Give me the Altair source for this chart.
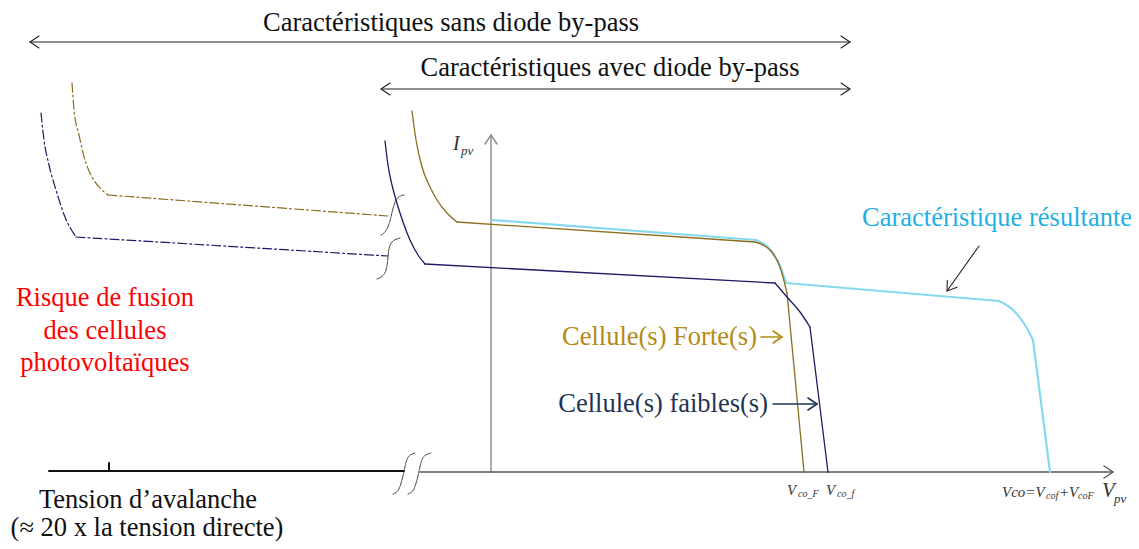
import altair as alt
import pandas as pd

# ---------------- data (sketch coordinates) ----------------
# I-V curves, split into curved and straight pieces (y grows downward)
forte_pieces = [
    ("curve", [412, 416, 422, 430, 437, 447, 457], [111, 140, 167, 187, 200, 213, 222]),
    ("line", [457, 755], [222, 242]),
    ("curve", [755, 770, 780, 787], [242, 250, 267, 293]),
    ("line", [787, 804], [293, 472]),
]
forte_ext_pieces = [
    ("curve", [72, 74, 79, 85, 92, 100, 108], [83, 110, 135, 160, 177, 188, 195]),
    ("line", [108, 388], [195, 216]),
]
faible_pieces = [
    ("curve", [385, 388, 392, 396, 403, 410, 418, 425], [141, 165, 185, 200, 222, 240, 255, 264]),
    ("line", [425, 775], [264, 283]),
    ("curve", [775, 787, 800, 810], [283, 297, 312, 327]),
    ("line", [810, 828], [327, 472]),
]
faible_ext_pieces = [
    ("curve", [41, 44, 49, 56, 65, 76], [113, 140, 165, 190, 217, 237]),
    ("line", [76, 388], [237, 256]),
]
result_pieces = [
    ("line", [492, 756], [220, 240]),
    ("curve", [756, 772, 780, 786], [240, 252, 266, 283]),
    ("line", [786, 999], [283, 301]),
    ("curve", [999, 1013, 1025, 1033], [301, 310, 325, 340]),
    ("line", [1033, 1050], [340, 472]),
]

# axis-break "S" symbols
brk1_x = [381, 386, 390, 392, 395, 399, 404]
brk1_y = [235, 232, 222, 212, 201, 196, 195]
brk2_x = [377, 384, 387, 388, 389, 393, 400]
brk2_y = [279, 276, 268, 257, 246, 240, 238]
brk3_x = [393, 398, 401, 404, 406, 409, 415]
brk3_y = [494, 492, 484, 472, 461, 455, 453]
brk4_x = [408, 413, 416, 419, 421, 424, 431]
brk4_y = [494, 492, 484, 472, 461, 455, 453]

# axes / baseline
axis_origin = (491, 472)
v_axis_top = 135
h_axis_start, h_axis_end = 420, 1113
base_x = [49, 404]
base_y = 471
tick_x = 109
tick_y = [463, 471]

# arrows: (x_tail, y_tail, x_tip, y_tip, double-headed)
arrows_black = [(30, 42, 850, 42, True), (381, 89, 850, 89, True), (979, 246, 947, 291, False)]
arrow_faible = [(773, 404, 817, 404, False)]
arrow_forte = [(761, 337, 782, 337, False)]

# texts
title_text = ["Caractéristiques sans diode by-pass", "Caractéristiques avec diode by-pass",
              "Tension d’avalanche", "(≈ 20 x la tension directe)"]
title_x = [451, 610, 148, 147]
title_y = [22.5, 68, 500, 528]
risk_text = ["Risque de fusion", "des cellules", "photovoltaïques"]
risk_x = [105, 105, 105]
risk_y = [298, 331, 363]
result_label = "Caractéristique résultante"
result_label_xy = (997, 218)
forte_label = "Cellule(s) Forte(s)"
forte_label_xy = (757, 337)
faible_label = "Cellule(s) faibles(s)"
faible_label_xy = (768, 404)
# italic math labels: (text, x, y, size)
math_labels = [("I", 453, 144, 20), ("pv", 461, 151, 13),
               ("V", 787, 490, 15), ("co_F", 798, 494, 10),
               ("V", 826, 490, 15), ("co_f", 837, 494, 10),
               ("Vco=V", 1002, 492, 15), ("cof", 1046, 496, 10),
               ("+V", 1059, 492, 15), ("coF", 1078, 496, 10),
               ("V", 1102, 491, 21), ("pv", 1114, 499, 13)]

# ---------------- helpers ----------------
W, H = 1123, 533
xs = alt.Scale(domain=[8, 1131], nice=False, zero=False)
ys = alt.Scale(domain=[8, 541], nice=False, zero=False, reverse=True)
X = alt.X("x:Q", scale=xs, axis=None)
Y = alt.Y("y:Q", scale=ys, axis=None)
FS = 26.5


def frame(paths):
    rows = []
    for pid, (px, py) in enumerate(paths):
        for i, (a, b) in enumerate(zip(px, py)):
            rows.append({"x": a, "y": b, "i": i, "p": pid})
    return pd.DataFrame(rows)


def heads(x1, y1, x2, y2, L=9.0, S=6.0):
    dx, dy = x2 - x1, y2 - y1
    n = (dx * dx + dy * dy) ** 0.5
    ux, uy = dx / n, dy / n
    bx, by = x2 - L * ux, y2 - L * uy
    return ([bx - S * uy, x2, bx + S * uy], [by + S * ux, y2, by - S * ux])


def arrow_paths(specs):
    out = []
    for (x1, y1, x2, y2, both) in specs:
        out.append(([x1, x2], [y1, y2]))
        out.append(heads(x1, y1, x2, y2))
        if both:
            out.append(heads(x2, y2, x1, y1))
    return out


def lines(paths, color, width, dash=None, interp="linear"):
    kw = dict(color=color, strokeWidth=width, interpolate=interp, strokeCap="round", strokeJoin="round")
    if dash:
        kw["strokeDash"] = dash
    return alt.Chart(frame(paths)).mark_line(**kw).encode(
        x=X, y=Y, detail="p:N", order="i:Q")


def series(pieces, color, width, dash=None):
    curves = [(px, py) for kind, px, py in pieces if kind == "curve"]
    straights = [(px, py) for kind, px, py in pieces if kind == "line"]
    out = []
    if straights:
        out.append(lines(straights, color, width, dash=dash, interp="linear"))
    if curves:
        out.append(lines(curves, color, width, dash=dash, interp="monotone"))
    return out


def texts(t, x, y, color, size, align="center", style="normal", font="Liberation Serif"):
    df = pd.DataFrame({"t": t, "x": x, "y": y})
    return alt.Chart(df).mark_text(font=font, fontSize=size, color=color, align=align,
                                   baseline="middle", fontStyle=style).encode(x=X, y=Y, text="t:N")


GOLD = "#8C6D1F"
NAVY = "#1E1A66"
CYAN = "#86D9EE"
GOLD_TXT = "#B38A14"
NAVY_TXT = "#1F3556"

layers = []
# axes
ox, oy = axis_origin
layers.append(lines([([ox, ox], [oy, v_axis_top]), heads(ox, oy, ox, v_axis_top)], "#8a8a8a", 1.4))
layers.append(lines([([h_axis_start, h_axis_end], [oy, oy]), heads(h_axis_start, oy, h_axis_end, oy)],
                    "#555555", 1.4))
layers.append(lines([(base_x, [base_y, base_y]), ([tick_x, tick_x], tick_y)], "#111111", 2.0))
# break symbols
layers.append(lines([(brk1_x, brk1_y), (brk2_x, brk2_y), (brk3_x, brk3_y), (brk4_x, brk4_y)],
                    "#333333", 1.0, dash=[1.5, 1], interp="basis"))
# curves
layers += series(forte_ext_pieces, GOLD, 1.2, dash=[9, 3, 2, 3])
layers += series(faible_ext_pieces, NAVY, 1.2, dash=[9, 3, 2, 3])
layers += series(result_pieces, CYAN, 2.2)
layers += series(forte_pieces, GOLD, 1.3)
layers += series(faible_pieces, NAVY, 1.3)
# arrows
layers.append(lines(arrow_paths(arrows_black), "#222222", 1.1))
layers.append(lines(arrow_paths(arrow_faible), NAVY_TXT, 1.6))
layers.append(lines(arrow_paths(arrow_forte), GOLD_TXT, 1.6))
# texts
layers.append(texts(title_text, title_x, title_y, "#111111", FS))
layers.append(texts(risk_text, risk_x, risk_y, "#FF0000", FS))
layers.append(texts([result_label], [result_label_xy[0]], [result_label_xy[1]], "#1FB0E6", FS))
layers.append(texts([forte_label], [forte_label_xy[0]], [forte_label_xy[1]], GOLD_TXT, FS, align="right"))
layers.append(texts([faible_label], [faible_label_xy[0]], [faible_label_xy[1]], NAVY_TXT, FS, align="right"))
for (t, x, y, s) in math_labels:
    layers.append(texts([t], [x], [y], "#333333", s, align="left", style="italic"))

chart = alt.layer(*layers).properties(
    width=W, height=H, padding=0, background="white",
    autosize=alt.AutoSizeParams(type="none"),
).configure_view(stroke=None)

chart.save("out.html", embed_options={"renderer": "svg", "actions": False})
